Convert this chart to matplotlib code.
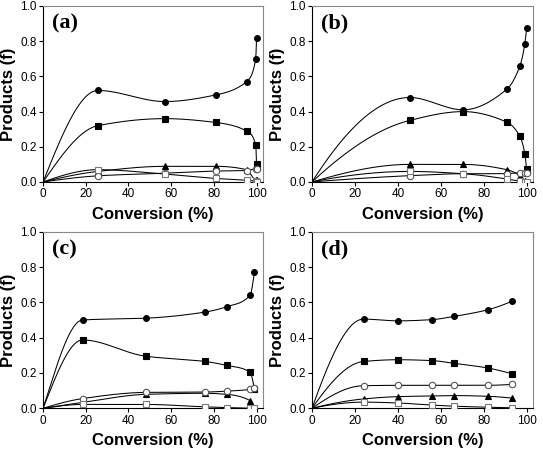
import numpy as np
import matplotlib.pyplot as plt

# conversion (%) for each panel
conv_a = [25.7, 57, 81, 95.3, 99.6, 100]
conv_b = [45.6, 70.4, 90.8, 96.9, 99.2, 100]
conv_c = [18.5, 48, 76, 86, 97, 99]
conv_d = [24, 40, 56, 66, 82, 93]

# product fractions: filled circle, filled square, filled triangle, open circle, open square
a_circ = [0.52, 0.457, 0.495, 0.57, 0.70, 0.82]
a_sq = [0.32, 0.36, 0.338, 0.29, 0.21, 0.10]
a_tri = [0.06, 0.089, 0.089, 0.07, 0.013, 0.013]
a_ocirc = [0.035, 0.05, 0.062, 0.065, 0.074, 0.074]
a_osq = [0.07, 0.045, 0.02, 0.01, 0.003, 0.0]

b_circ = [0.48, 0.41, 0.527, 0.66, 0.786, 0.873]
b_sq = [0.35, 0.40, 0.34, 0.259, 0.16, 0.074]
b_tri = [0.10, 0.10, 0.07, 0.036, 0.008, 0.0]
b_ocirc = [0.036, 0.047, 0.047, 0.053, 0.053, 0.053]
b_osq = [0.06, 0.047, 0.017, 0.004, 0.0, 0.0]

c_circ = [0.50, 0.51, 0.545, 0.575, 0.64, 0.77]
c_sq = [0.387, 0.295, 0.265, 0.243, 0.204, 0.11]
c_tri = [0.033, 0.079, 0.085, 0.079, 0.043, 0.003]
c_ocirc = [0.055, 0.09, 0.092, 0.097, 0.107, 0.113]
c_osq = [0.022, 0.022, 0.008, 0.004, 0.001, 0.0]

d_circ = [0.505, 0.495, 0.502, 0.52, 0.558, 0.605]
d_sq = [0.265, 0.275, 0.27, 0.255, 0.228, 0.196]
d_tri = [0.053, 0.066, 0.07, 0.072, 0.068, 0.058]
d_ocirc = [0.128, 0.13, 0.13, 0.13, 0.13, 0.135]
d_osq = [0.035, 0.03, 0.018, 0.012, 0.006, 0.003]

panels = [
    ("(a)", conv_a, [a_circ, a_sq, a_tri, a_ocirc, a_osq], [0.0792, 0.5965, 0.4051, 0.3902]),
    ("(b)", conv_b, [b_circ, b_sq, b_tri, b_ocirc, b_osq], [0.5746, 0.5965, 0.4070, 0.3902]),
    ("(c)", conv_c, [c_circ, c_sq, c_tri, c_ocirc, c_osq], [0.0792, 0.0947, 0.4051, 0.3916]),
    ("(d)", conv_d, [d_circ, d_sq, d_tri, d_ocirc, d_osq], [0.5746, 0.0947, 0.4070, 0.3916]),
]

styles = [
    dict(marker='o', mfc='black', mec='black', ms=4.2),
    dict(marker='s', mfc='black', mec='black', ms=3.8),
    dict(marker='^', mfc='black', mec='black', ms=4.4),
    dict(marker='o', mfc='white', mec='#555555', ms=4.6),
    dict(marker='s', mfc='white', mec='#777777', ms=4.0),
]


def pchip_curve(x, y, n=400):
    # monotone cubic (Fritsch-Carlson) through the origin and the data
    x = np.concatenate([[0.0], np.asarray(x, float)])
    y = np.concatenate([[0.0], np.asarray(y, float)])
    h = np.diff(x)
    d = np.diff(y) / h
    m = np.zeros_like(x)
    for k in range(1, len(x) - 1):
        if d[k - 1] * d[k] > 0:
            w1 = 2 * h[k] + h[k - 1]
            w2 = h[k] + 2 * h[k - 1]
            m[k] = (w1 + w2) / (w1 / d[k - 1] + w2 / d[k])
    m[0] = ((2 * h[0] + h[1]) * d[0] - h[0] * d[1]) / (h[0] + h[1])
    if np.sign(m[0]) != np.sign(d[0]):
        m[0] = 0
    m[-1] = ((2 * h[-1] + h[-2]) * d[-1] - h[-1] * d[-2]) / (h[-1] + h[-2])
    if np.sign(m[-1]) != np.sign(d[-1]):
        m[-1] = 0
    xs = np.linspace(0, x[-1], n)
    idx = np.clip(np.searchsorted(x, xs) - 1, 0, len(x) - 2)
    t = (xs - x[idx]) / h[idx]
    h00 = 2 * t**3 - 3 * t**2 + 1
    h10 = t**3 - 2 * t**2 + t
    h01 = -2 * t**3 + 3 * t**2
    h11 = t**3 - t**2
    ys = h00 * y[idx] + h10 * h[idx] * m[idx] + h01 * y[idx + 1] + h11 * h[idx] * m[idx + 1]
    return xs, ys


fig = plt.figure(figsize=(5.43, 4.51), dpi=100)
plt.rcParams['font.family'] = ['Liberation Sans', 'DejaVu Sans']

for label, conv, series, pos in panels:
    ax = fig.add_axes(pos)
    for ys, st in zip(series, styles):
        xs, yf = pchip_curve(conv, ys)
        ax.plot(xs, yf, color='black', lw=0.75, zorder=2)
        ax.plot(conv, ys, ls='none', mew=0.8, zorder=3, **st)
    ax.set_xlim(0, 103)
    ax.set_ylim(0, 1.0)
    ax.set_xticks([0, 20, 40, 60, 80, 100])
    ax.set_yticks([0.0, 0.2, 0.4, 0.6, 0.8, 1.0])
    ax.set_yticklabels(['0.0', '0.2', '0.4', '0.6', '0.8', '1.0'])
    ax.tick_params(direction='out', length=3, width=0.8, labelsize=8.5, pad=1.5,
                   top=False, right=False)
    for s in ['top', 'right']:
        ax.spines[s].set_color('#888888')
    for s in ['left', 'bottom']:
        ax.spines[s].set_color('black')
    for s in ax.spines.values():
        s.set_linewidth(0.8)
    ax.set_xlabel('Conversion (%)', fontsize=12, fontweight='bold', labelpad=5)
    ax.set_ylabel('Products (f)', fontsize=12, fontweight='bold', labelpad=3)
    ax.text(0.04, 0.955, label, transform=ax.transAxes, ha='left', va='top',
            fontsize=16, fontweight='bold', family='Liberation Serif')

fig.savefig('out.png', dpi=100)
